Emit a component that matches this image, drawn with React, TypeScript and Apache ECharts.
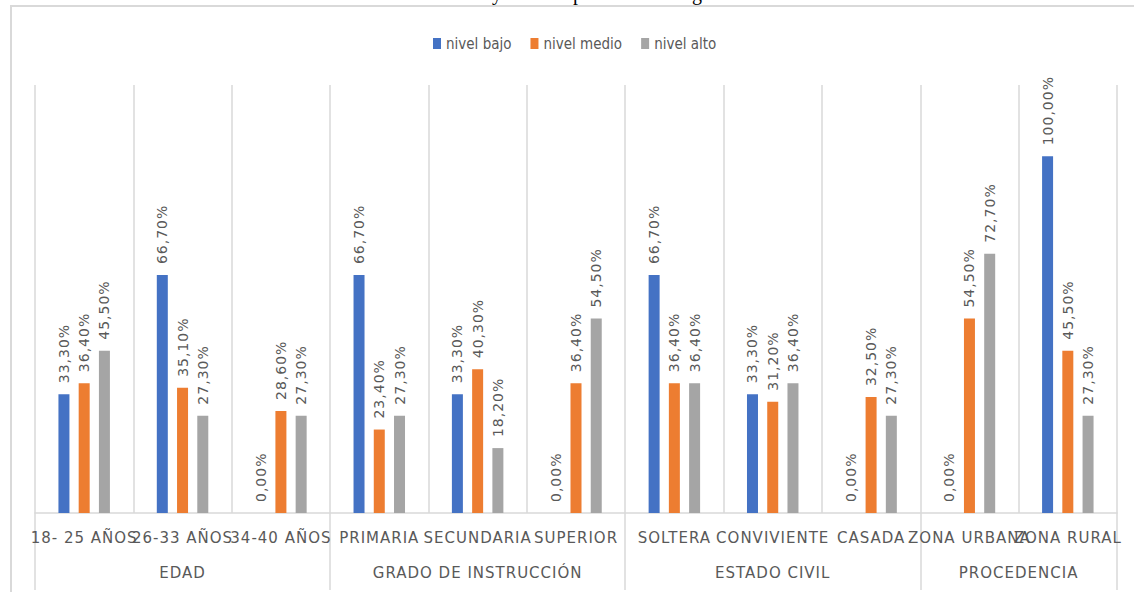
import React, { useEffect, useRef } from 'react';
import * as echarts from 'echarts';

const categories = ['18- 25 AÑOS', '26-33 AÑOS', '34-40 AÑOS', 'PRIMARIA', 'SECUNDARIA', 'SUPERIOR', 'SOLTERA', 'CONVIVIENTE', 'CASADA', 'ZONA URBANA', 'ZONA RURAL'];
const groupNames = ['EDAD', 'GRADO DE INSTRUCCIÓN', 'ESTADO CIVIL', 'PROCEDENCIA'];
const groupSizes = [3, 3, 3, 2];
const seriesNames = ['nivel bajo', 'nivel medio', 'nivel alto'];
const nivelBajo = [33.3, 66.7, 0, 66.7, 33.3, 0, 66.7, 33.3, 0, 0, 100];
const nivelMedio = [36.4, 35.1, 28.6, 23.4, 40.3, 36.4, 36.4, 31.2, 32.5, 54.5, 45.5];
const nivelAlto = [45.5, 27.3, 27.3, 27.3, 18.2, 54.5, 36.4, 36.4, 27.3, 72.7, 27.3];
const titleFragments = ['y', 'p', 'g'];

const COLORS = ['#4472C4', '#ED7D31', '#A5A5A5'];
const TEXT = '#595959';
const LINE = '#D9D9D9';
const FONT = "'DejaVu Sans', sans-serif";
const LEGEND_FONT = "'DejaVu Sans Condensed', 'Liberation Sans Narrow', Roboto, sans-serif";

const css = `
.chart-box svg text { letter-spacing: 1px; }
.chart-box svg text[style*="Condensed"], .chart-box svg text[font-family*="Condensed"] { letter-spacing: 0px; }
`;

export default function App() {
  const ref = useRef<HTMLDivElement>(null);

  useEffect(() => {
    const chart = echarts.init(ref.current!, null, { renderer: 'svg' });
    const boundaries: number[] = [0];
    groupSizes.forEach((s) => boundaries.push(boundaries[boundaries.length - 1] + s));
    const centers = groupSizes.map((s, i) => boundaries[i] + s / 2);
    const labelFmt = (p: any) => Number(p.value).toFixed(2).replace('.', ',') + '%';
    const values = [nivelBajo, nivelMedio, nivelAlto];
    const fragX = [492, 573, 692];

    chart.setOption({
      animation: false,
      backgroundColor: '#ffffff',
      legend: {
        top: 31,
        left: 428,
        icon: 'rect',
        itemWidth: 8,
        itemHeight: 11,
        itemGap: 19,
        textStyle: { color: TEXT, fontSize: 15, fontFamily: LEGEND_FONT },
        data: seriesNames,
      },
      grid: { left: 35, right: 17, top: 85, bottom: 79, containLabel: false },
      xAxis: [
        {
          type: 'category',
          data: categories,
          position: 'bottom',
          axisLine: { show: true, lineStyle: { color: LINE, width: 1.5 } },
          axisTick: { show: false },
          axisLabel: { interval: 0, margin: 17, color: TEXT, fontSize: 15, fontFamily: FONT },
          splitLine: { show: true, interval: 0, lineStyle: { color: LINE, width: 1.5 } },
        },
        {
          type: 'value',
          min: 0,
          max: categories.length,
          position: 'bottom',
          axisLine: { show: false },
          splitLine: { show: false },
          axisTick: { show: true, customValues: boundaries, length: 77, lineStyle: { color: LINE, width: 1.5 } },
          axisLabel: {
            show: true,
            customValues: centers,
            margin: 52,
            color: TEXT,
            fontSize: 15,
            fontFamily: FONT,
            formatter: (v: number) => {
              const i = centers.findIndex((c) => Math.abs(c - v) < 1e-6);
              return i >= 0 ? groupNames[i] : '';
            },
          },
        },
      ],
      yAxis: { type: 'value', min: 0, max: 120, show: false },
      series: seriesNames.map((name, i) => ({
        name,
        type: 'bar',
        xAxisIndex: 0,
        data: values[i],
        barWidth: 11,
        barGap: '84%',
        itemStyle: { color: COLORS[i] },
        label: {
          show: true,
          position: 'top',
          rotate: 90,
          align: 'left',
          verticalAlign: 'middle',
          distance: 11,
          formatter: labelFmt,
          color: TEXT,
          fontSize: 14,
          fontFamily: FONT,
        },
      })),
      graphic: [
        {
          type: 'rect',
          shape: { x: 11, y: 6, width: 1300, height: 800 },
          style: { fill: 'none', stroke: LINE, lineWidth: 2 },
          silent: true,
        },
        ...titleFragments.map((t, i) => ({
          type: 'text',
          x: fragX[i],
          y: -7,
          style: { text: t, fill: '#000000', fontSize: 20, fontFamily: "'Liberation Serif', serif", verticalAlign: 'middle', align: 'left' },
          silent: true,
        })),
      ],
    });
    return () => chart.dispose();
  }, []);

  return (
    <>
      <style>{css}</style>
      <div ref={ref} className="chart-box" style={{ position: 'fixed', left: 0, top: 0, width: 1134, height: 592 }} />
    </>
  );
}
